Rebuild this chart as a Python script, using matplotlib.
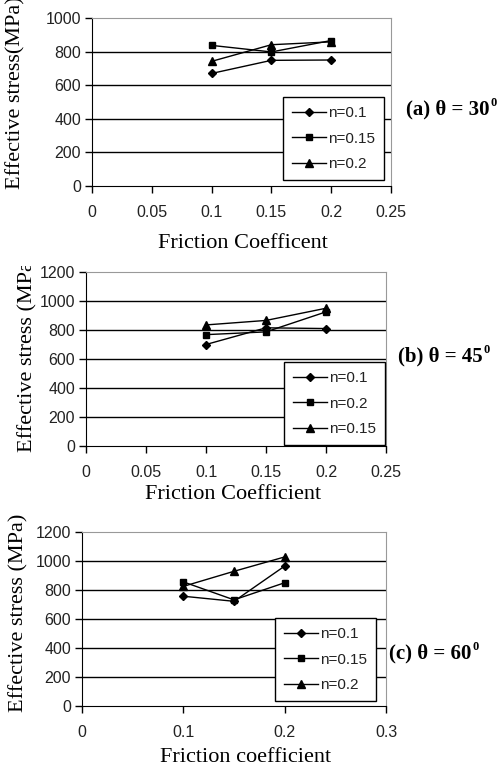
import matplotlib.pyplot as plt
from matplotlib.transforms import Bbox

# data
mu = [0.1, 0.15, 0.2]

# (a) theta = 30
a_n01 = [670, 748, 750]
a_n015 = [837, 798, 866]
a_n02 = [742, 841, 858]

# (b) theta = 45
b_n01 = [700, 815, 810]
b_n02 = [768, 787, 925]
b_n015 = [835, 866, 950]

# (c) theta = 60
c_n01 = [757, 722, 965]
c_n015 = [856, 732, 850]
c_n02 = [825, 929, 1028]

W, H = 500, 776
fig = plt.figure(figsize=(W / 100, H / 100), dpi=100)

tick_font = dict(family='Liberation Sans', size=11.5, color='#222222')
lab_font = dict(family='Liberation Serif', size=16)


def px_axes(l, t, r, b):
    return fig.add_axes([l / W, 1 - b / H, (r - l) / W, (b - t) / H])


def style(ax, xmax, xstep, ymax):
    ax.set_xlim(0, xmax)
    ax.set_ylim(0, ymax)
    n = int(round(xmax / xstep))
    xt = [round(i * xstep, 2) for i in range(n + 1)]
    ax.set_xticks(xt)
    ax.set_xticklabels(['%g' % v for v in xt], **tick_font)
    yt = list(range(0, ymax + 1, 200))
    ax.set_yticks(yt)
    ax.set_yticklabels([str(v) for v in yt], **tick_font)
    ax.tick_params(axis='x', direction='out', length=5, width=1, pad=9, colors='black')
    ax.tick_params(axis='y', direction='out', length=5, width=1, pad=3, colors='black')
    for lab in ax.get_xticklabels() + ax.get_yticklabels():
        lab.set_color('#222222')
    for v in yt[1:-1]:
        ax.axhline(v, color='black', lw=1, zorder=1)
    ax.spines['left'].set_color('black')
    ax.spines['bottom'].set_color('black')
    ax.spines['top'].set_color('#999999')
    ax.spines['right'].set_color('#999999')


def series(ax, ys, marker, ms, label):
    ax.plot(mu, ys, color='black', lw=1, marker=marker, ms=ms, label=label, zorder=3)


def legend(ax, x, y):
    leg = ax.legend(loc='upper left', bbox_to_anchor=(x, y), borderaxespad=0,
                    prop={'family': 'Liberation Sans', 'size': 11},
                    fancybox=False, framealpha=1, edgecolor='black',
                    handlelength=2.2, labelspacing=0.75, borderpad=0.6,
                    handletextpad=0.15)
    leg.get_frame().set_linewidth(1)
    for t in leg.get_texts():
        t.set_color('#222222')


# ---- (a)
ax1 = px_axes(92, 18, 391, 186)
style(ax1, 0.25, 0.05, 1000)
series(ax1, a_n01, 'D', 4.5, 'n=0.1')
series(ax1, a_n015, 's', 5, 'n=0.15')
series(ax1, a_n02, '^', 5.5, 'n=0.2')
legend(ax1, (283 - 92) / 299, 1 - (97 - 18) / 168)

# ---- (b)
ax2 = px_axes(86, 272, 386, 446)
style(ax2, 0.25, 0.05, 1200)
series(ax2, b_n01, 'D', 4.5, 'n=0.1')
series(ax2, b_n02, 's', 5, 'n=0.2')
series(ax2, b_n015, '^', 5.5, 'n=0.15')
legend(ax2, (284 - 86) / 300, 1 - (362 - 272) / 174)

# ---- (c)
ax3 = px_axes(82, 532, 386, 706)
style(ax3, 0.3, 0.1, 1200)
series(ax3, c_n01, 'D', 4.5, 'n=0.1')
series(ax3, c_n015, 's', 5, 'n=0.15')
series(ax3, c_n02, '^', 5.5, 'n=0.2')
legend(ax3, (275 - 82) / 304, 1 - (618 - 532) / 174)

# axis titles (placed by pixel, some are cut off like in the scan)
fig.text(243 / W, 1 - 243 / H, 'Friction Coefficent', ha='center', va='center', **lab_font)
fig.text(233 / W, 1 - 495 / H, 'Friction Coefficient', ha='center', va='center', **lab_font)
fig.text(246 / W, 1 - 758 / H, 'Friction coefficient', ha='center', va='center', **lab_font)

fig.text(16 / W, 1 - 189 / H, 'Effective stress(MPa)', rotation=90,
         ha='center', va='bottom', **lab_font)
yb = fig.text(28 / W, 1 - 452 / H, 'Effective stress (MPa)', rotation=90,
              ha='center', va='bottom', **lab_font)
yb.set_clip_box(Bbox([[0, 0], [W, H - 266]]))
yb.set_clip_on(True)
fig.text(19 / W, 1 - 712 / H, 'Effective stress (MPa)', rotation=90,
         ha='center', va='bottom', **lab_font)

# panel captions
cap = dict(family='Liberation Serif', size=15, weight='bold', va='baseline')
sup = dict(family='Liberation Serif', size=9, weight='bold', va='baseline')
for x0, yb_, txt in [(406, 114, '(a) θ = 30'), (398, 361, '(b) θ = 45'), (389, 658, '(c) θ = 60')]:
    t = fig.text(x0 / W, 1 - yb_ / H, txt, **cap)
    fig.canvas.draw()
    bb = t.get_window_extent()
    fig.text((bb.x1 + 1) / W, 1 - (yb_ - 8) / H, '0', **sup)

fig.savefig('out.png', dpi=100)
